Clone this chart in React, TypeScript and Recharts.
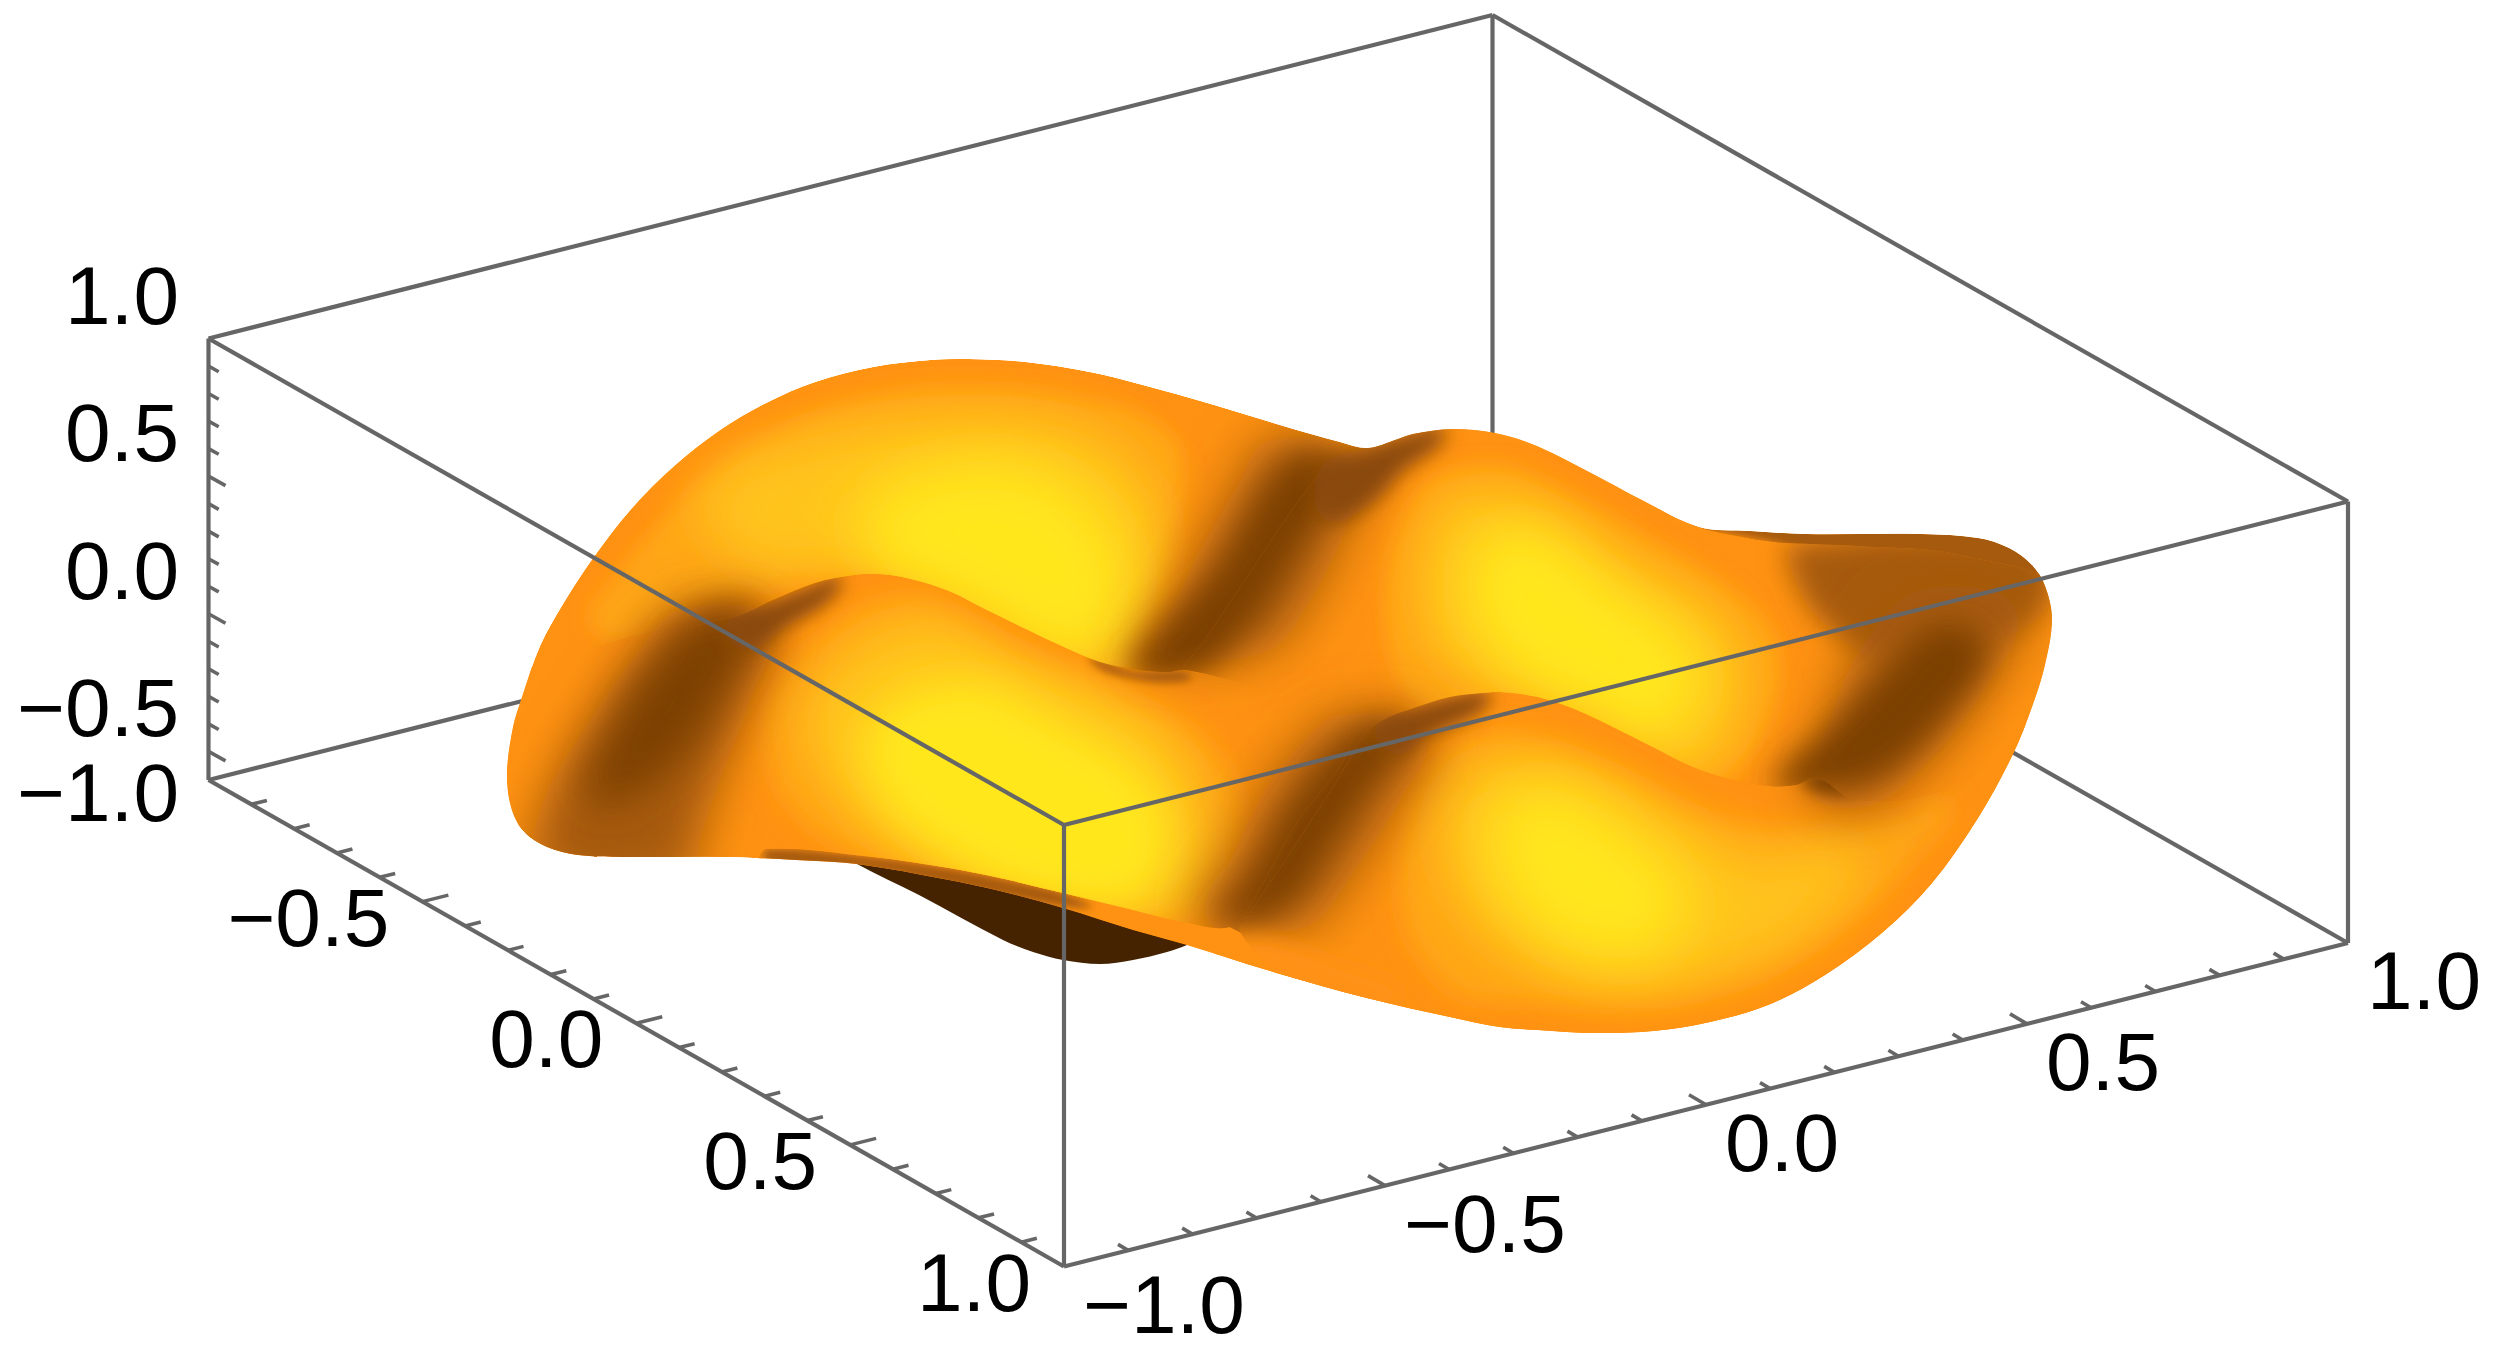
import { ScatterChart, Scatter, XAxis, YAxis } from 'recharts'

type Pair = number[]

// axis ticks (box axes run -1..1, the height axis is cut at zBottom)
const groundTicks = [-0.9, -0.8, -0.7, -0.6, -0.5, -0.4, -0.3, -0.2, -0.1, 0, 0.1, 0.2, 0.3, 0.4, 0.5, 0.6, 0.7, 0.8, 0.9]
const heightTicks = [0.9, 0.8, 0.7, 0.6, 0.5, 0.4, 0.3, 0.2, 0.1, 0, -0.1, -0.2, -0.3, -0.4, -0.5]
const majorTicks = [-0.5, 0, 0.5]
const groundLabels = [-1, -0.5, 0, 0.5, 1]
const heightLabels = [
  { z: 1, text: '1.0' },
  { z: 0.5, text: '0.5' },
  { z: 0, text: '0.0' },
  { z: -0.5, text: '−0.5' },
  { z: -0.806, text: '−1.0' },
]
const zBottom = -0.604

// box edges, as [u, v, z] corners
const backEdges = [
  [[-1, -1, zBottom], [-1, 1, zBottom]],
  [[1, 1, zBottom], [-1, 1, zBottom]],
  [[-1, 1, zBottom], [-1, 1, 1]],
  [[-1, -1, 1], [-1, 1, 1]],
  [[-1, 1, 1], [1, 1, 1]],
]
const frontEdges = [
  [[-1, -1, 1], [1, -1, 1]],
  [[1, -1, 1], [1, 1, 1]],
  [[1, -1, 1], [1, -1, zBottom]],
  [[-1, -1, 1], [-1, -1, zBottom]],
  [[1, 1, 1], [1, 1, zBottom]],
  [[-1, -1, zBottom], [1, -1, zBottom]],
  [[1, -1, zBottom], [1, 1, zBottom]],
]

// surface traces in view-plane units
const underside = [[820, 840], [857, 864], [919, 895], [1003, 940], [1033, 952], [1063, 960], [1100, 964], [1133, 960], [1167, 952], [1187, 945], [1232, 925], [1100, 880]]
const outline = [[507, 772], [513, 727], [521, 700], [540, 646], [563, 604], [593, 558], [632, 508], [674, 466], [720, 430], [766, 403], [815, 382], [873, 367], [930, 360], [968, 359], [1026, 362], [1090, 372], [1143, 385], [1211, 404], [1280, 425], [1340, 442], [1368, 448], [1395, 440], [1413, 434], [1452, 429], [1495, 433], [1537, 446], [1593, 474], [1642, 500], [1699, 527], [1750, 531], [1806, 534], [1921, 534], [1978, 538], [2009, 548], [2032, 565], [2045, 586], [2052, 619], [2045, 665], [2032, 707], [2013, 754], [1978, 818], [1932, 883], [1883, 932], [1825, 975], [1768, 1005], [1710, 1022], [1653, 1031], [1596, 1033], [1538, 1030], [1500, 1027], [1450, 1017], [1367, 998], [1267, 970], [1187, 945], [1133, 930], [1063, 908], [1000, 891], [949, 880], [857, 864], [796, 860], [720, 857], [624, 857], [578, 855], [547, 847], [524, 832], [511, 807]]
const humpSheet = [[1325, 468], [1345, 455], [1368, 447], [1413, 432], [1452, 427], [1495, 431], [1537, 444], [1593, 472], [1642, 498], [1699, 527], [1737, 536], [1775, 542], [1814, 544], [1860, 546], [1960, 555], [2070, 600], [2090, 800], [1900, 1060], [1260, 1000], [1180, 760], [1178, 680], [1205, 640], [1245, 580], [1285, 520]]
const stripSheet = [[766, 849], [873, 857], [949, 868], [1000, 878], [1063, 893], [1133, 910], [1183, 922], [1230, 927], [1300, 985], [1187, 960], [1063, 925], [900, 880], [760, 865]]
const leftSheet = [[735, 617], [773, 600], [815, 583], [854, 575], [880, 574], [911, 579], [949, 591], [987, 610], [1026, 629], [1064, 647], [1100, 662], [1133, 669], [1167, 672], [1187, 670], [1260, 688], [1330, 712], [1350, 745], [1298, 821], [1250, 905], [1230, 927], [1183, 922], [1133, 910], [1063, 893], [1000, 878], [949, 868], [873, 857], [766, 849], [600, 870], [490, 790], [500, 690], [620, 640]]
const rightSheet = [[1365, 735], [1383, 720], [1417, 707], [1450, 697], [1483, 693], [1500, 692], [1538, 697], [1577, 710], [1615, 728], [1653, 747], [1691, 766], [1730, 779], [1768, 786], [1795, 785], [1818, 778], [1855, 800], [1945, 790], [2000, 745], [2080, 700], [2080, 1100], [1500, 1090], [1300, 990], [1240, 932], [1250, 913], [1290, 853], [1333, 787]]

const backOuter = [[590, 620], [618, 575], [655, 528], [695, 488], [738, 455], [782, 430], [828, 410], [880, 396], [935, 388], [968, 387], [1024, 390], [1085, 400], [1135, 412], [1180, 450], [1170, 540], [1140, 620], [1130, 670], [1060, 670], [950, 600], [850, 570], [760, 590], [680, 610], [620, 640]]
const backMid = [[700, 500], [800, 440], [970, 420], [1100, 440], [1160, 520], [1130, 640], [1060, 665], [950, 600], [850, 570], [760, 570]]
const backYellow = [[860, 510], [940, 465], [1030, 465], [1100, 510], [1130, 580], [1110, 650], [1060, 660], [970, 610], [880, 570]]
const leftHalo = [[680, 610], [770, 620], [750, 700], [720, 780], [700, 840], [690, 880], [540, 880], [540, 810], [590, 720], [640, 650]]
const leftBand = [[705, 615], [755, 615], [730, 680], [690, 745], [640, 790], [590, 800], [610, 735], [650, 670]]
const midHalo = [[1270, 440], [1360, 460], [1345, 530], [1310, 600], [1270, 650], [1170, 660], [1140, 650], [1170, 610], [1200, 550], [1235, 490]]
const midBand = [[1300, 455], [1340, 470], [1305, 535], [1265, 600], [1235, 640], [1200, 672], [1130, 672], [1160, 630], [1200, 590], [1225, 560], [1260, 500]]
const rimBrown = [[1690, 520], [2060, 520], [2060, 600], [1850, 570], [1780, 545]]
const humpOuter = [[1420, 490], [1495, 465], [1570, 495], [1660, 545], [1730, 590], [1775, 640], [1770, 720], [1710, 785], [1620, 750], [1520, 710], [1420, 710], [1385, 600]]
const humpMid = [[1440, 510], [1520, 500], [1620, 560], [1720, 620], [1745, 680], [1700, 770], [1600, 730], [1500, 690], [1430, 640]]
const humpYellow = [[1480, 540], [1540, 530], [1620, 590], [1690, 640], [1700, 690], [1660, 740], [1590, 710], [1510, 670], [1470, 610]]
const humpShade = [[1320, 468], [1368, 447], [1413, 432], [1445, 428], [1440, 445], [1405, 470], [1370, 505], [1325, 520]]
const rightUpper = [[1790, 545], [2040, 545], [2045, 610], [1960, 650], [1880, 660], [1820, 620], [1795, 580]]
const rightHalo = [[1810, 790], [1830, 720], [1860, 650], [1920, 590], [2020, 610], [1990, 680], [1930, 760], [1860, 810]]
const rightBand = [[1775, 785], [1825, 735], [1880, 680], [1940, 625], [1985, 650], [1945, 715], [1885, 770], [1820, 790]]
const rightTip = [[1800, 778], [1830, 770], [1870, 750], [1880, 770], [1840, 795]]
const stripShade = [[766, 849], [873, 857], [949, 868], [1000, 878], [1063, 893], [1090, 908], [1000, 895], [949, 885], [873, 870], [766, 862]]
const leftOuter = [[770, 700], [850, 615], [920, 598], [1000, 638], [1100, 690], [1190, 730], [1240, 800], [1210, 905], [1100, 915], [980, 890], [880, 865], [785, 800]]
const leftMid = [[810, 700], [920, 620], [1020, 660], [1120, 700], [1190, 770], [1190, 900], [1080, 910], [960, 880], [840, 800]]
const leftYellow = [[870, 720], [970, 680], [1060, 720], [1150, 780], [1170, 860], [1130, 905], [1050, 900], [970, 870], [880, 800]]
const crestLeftShade = [[725, 625], [773, 602], [815, 585], [840, 578], [830, 600], [790, 625], [745, 650]]
const crestHookShade = [[1090, 660], [1133, 671], [1187, 672], [1190, 680], [1140, 680]]
const frontHalo = [[1340, 715], [1430, 730], [1400, 800], [1355, 870], [1310, 925], [1225, 930], [1195, 915], [1230, 860], [1265, 790], [1305, 740]]
const frontBand = [[1370, 725], [1405, 730], [1365, 790], [1325, 850], [1285, 905], [1240, 922], [1215, 920], [1250, 880], [1290, 810], [1330, 760]]
const rightOuter = [[1430, 770], [1500, 735], [1600, 765], [1700, 815], [1800, 830], [1900, 815], [1950, 800], [1912, 860], [1865, 908], [1810, 948], [1755, 978], [1700, 995], [1650, 1003], [1596, 1005], [1540, 1002], [1450, 990], [1400, 900]]
const rightMid = [[1450, 790], [1530, 760], [1640, 800], [1760, 860], [1860, 850], [1820, 920], [1740, 965], [1640, 985], [1530, 960], [1460, 900]]
const rightYellow = [[1500, 800], [1570, 790], [1640, 840], [1690, 890], [1670, 945], [1600, 960], [1530, 925], [1490, 860]]
const crestRightShade = [[1375, 725], [1417, 707], [1450, 697], [1490, 693], [1480, 712], [1430, 735], [1395, 755]]
const hookGlow = [[1215, 945], [1260, 938], [1330, 960], [1400, 1000], [1300, 1000], [1200, 960]]

const ORANGE = '#FF9212'
const OUTER = '#FFA616'
const MID = '#FFC41C'
const YELLOW = '#FFE71F'
const BROWN = '#7C4006'
const SHADE = '#8A4A08'
const TAN = '#A65A0A'

const layers: { sheet: string; data: Pair[]; fill: string; blur: number }[] = [
  { sheet: 'outline', data: outline, fill: ORANGE, blur: 0 },
  { sheet: 'outline', data: backOuter, fill: OUTER, blur: 10 },
  { sheet: 'outline', data: backMid, fill: MID, blur: 26 },
  { sheet: 'outline', data: backYellow, fill: YELLOW, blur: 30 },
  { sheet: 'outline', data: leftHalo, fill: TAN, blur: 24 },
  { sheet: 'outline', data: leftBand, fill: BROWN, blur: 20 },
  { sheet: 'outline', data: midHalo, fill: TAN, blur: 26 },
  { sheet: 'outline', data: midBand, fill: BROWN, blur: 16 },
  { sheet: 'outline', data: humpShade, fill: SHADE, blur: 10 },
  { sheet: 'outline', data: rimBrown, fill: TAN, blur: 5 },

  { sheet: 'hump', data: humpSheet, fill: ORANGE, blur: 0 },
  { sheet: 'hump', data: humpOuter, fill: OUTER, blur: 10 },
  { sheet: 'hump', data: humpMid, fill: MID, blur: 22 },
  { sheet: 'hump', data: humpYellow, fill: YELLOW, blur: 26 },
  { sheet: 'hump', data: midHalo, fill: TAN, blur: 26 },
  { sheet: 'hump', data: midBand, fill: BROWN, blur: 16 },
  { sheet: 'hump', data: humpShade, fill: SHADE, blur: 10 },
  { sheet: 'hump', data: rightUpper, fill: TAN, blur: 14 },
  { sheet: 'hump', data: rightHalo, fill: TAN, blur: 26 },
  { sheet: 'hump', data: rightBand, fill: BROWN, blur: 16 },
  { sheet: 'hump', data: frontHalo, fill: TAN, blur: 26 },
  { sheet: 'hump', data: frontBand, fill: BROWN, blur: 16 },

  { sheet: 'strip', data: stripSheet, fill: ORANGE, blur: 0 },
  { sheet: 'strip', data: stripShade, fill: TAN, blur: 4 },

  { sheet: 'left', data: leftSheet, fill: ORANGE, blur: 0 },
  { sheet: 'left', data: leftOuter, fill: OUTER, blur: 14 },
  { sheet: 'left', data: leftMid, fill: MID, blur: 22 },
  { sheet: 'left', data: leftYellow, fill: YELLOW, blur: 22 },
  { sheet: 'left', data: leftHalo, fill: TAN, blur: 24 },
  { sheet: 'left', data: leftBand, fill: BROWN, blur: 20 },
  { sheet: 'left', data: crestLeftShade, fill: SHADE, blur: 9 },
  { sheet: 'left', data: midHalo, fill: TAN, blur: 26 },
  { sheet: 'left', data: crestHookShade, fill: TAN, blur: 4 },
  { sheet: 'left', data: frontHalo, fill: TAN, blur: 26 },
  { sheet: 'left', data: frontBand, fill: BROWN, blur: 16 },

  { sheet: 'right', data: rightSheet, fill: ORANGE, blur: 0 },
  { sheet: 'right', data: rightOuter, fill: OUTER, blur: 13 },
  { sheet: 'right', data: rightMid, fill: MID, blur: 26 },
  { sheet: 'right', data: rightYellow, fill: YELLOW, blur: 30 },
  { sheet: 'right', data: frontHalo, fill: TAN, blur: 26 },
  { sheet: 'right', data: frontBand, fill: BROWN, blur: 16 },
  { sheet: 'right', data: crestRightShade, fill: SHADE, blur: 9 },
  { sheet: 'right', data: rightHalo, fill: TAN, blur: 26 },
  { sheet: 'right', data: rightTip, fill: BROWN, blur: 8 },
  { sheet: 'right', data: hookGlow, fill: ORANGE, blur: 10 },
]

const sheets: Record<string, Pair[]> = { outline, hump: humpSheet, strip: stripSheet, left: leftSheet, right: rightSheet }
const blurSizes = [4, 5, 8, 9, 10, 13, 14, 16, 20, 22, 24, 26, 30]

const WIDTH = 2500
const HEIGHT = 1352
const LINE = '#666666'
const FONT = '"Liberation Sans", Arial, sans-serif'

// the box is drawn in parallel projection
function project(u: number, v: number, z: number) {
  const a = (u + 1) / 2
  const b = (v + 1) / 2
  const c = (1 - z) / (1 - zBottom)
  return { x: 208.5 + a * 855.5 + b * 1284, y: 338.5 + a * 486.5 - b * 323.5 + c * 441.5 }
}

function toPoints(pairs: Pair[]) {
  return pairs.map(([x, y]) => ({ x, y }))
}

// closed smooth path through the traced points, handles scaled to each segment
function smoothPath(pts: { x: number; y: number }[]) {
  const n = pts.length
  const unit = (a: { x: number; y: number }, b: { x: number; y: number }) => {
    const l = Math.hypot(b.x - a.x, b.y - a.y) || 1
    return { x: (b.x - a.x) / l, y: (b.y - a.y) / l }
  }
  let d = `M${pts[0].x},${pts[0].y}`
  for (let i = 0; i < n; i++) {
    const p1 = pts[i]
    const p2 = pts[(i + 1) % n]
    const t1 = unit(pts[(i - 1 + n) % n], p2)
    const t2 = unit(p1, pts[(i + 2) % n])
    const k = Math.hypot(p2.x - p1.x, p2.y - p1.y) / 3
    d += `C${p1.x + t1.x * k},${p1.y + t1.y * k} ${p2.x - t2.x * k},${p2.y - t2.y * k} ${p2.x},${p2.y}`
  }
  return d + 'Z'
}

const noDot = () => <g />

function tickShape(dx: number, dy: number) {
  return (p: any) => {
    const k = majorTicks.includes(p.payload.t) ? 1 : 0.6
    return <line x1={p.cx} y1={p.cy} x2={p.cx + dx * k} y2={p.cy + dy * k} stroke={LINE} strokeWidth={3.6} />
  }
}

function labelShape(dx: number, dy: number, anchor: string) {
  return (p: any) => (
    <text x={p.cx + dx} y={p.cy + dy} textAnchor={anchor} fontFamily={FONT} fontSize={82} fill="#000000">
      {p.payload.text}
    </text>
  )
}

const fmt = (v: number) => (v < 0 ? '−' : '') + Math.abs(v).toFixed(1)

export default function App() {
  return (
    <div style={{ position: 'absolute', left: 0, top: 0, width: WIDTH, height: HEIGHT, background: '#ffffff' }}>
      <ScatterChart width={WIDTH} height={HEIGHT} margin={{ top: 0, right: 0, bottom: 0, left: 0 }}>
        <defs>
          {blurSizes.map((s) => (
            <filter key={s} id={`blur${s}`} filterUnits="userSpaceOnUse" x={0} y={0} width={WIDTH} height={HEIGHT}>
              <feGaussianBlur stdDeviation={s} />
            </filter>
          ))}
        </defs>
        <XAxis type="number" dataKey="x" domain={[0, WIDTH]} hide />
        <YAxis type="number" dataKey="y" domain={[0, HEIGHT]} reversed hide />

        {backEdges.map((edge, i) => (
          <Scatter
            key={`back${i}`}
            data={edge.map(([u, v, z]) => project(u, v, z))}
            line={{ stroke: LINE, strokeWidth: 4.2 }}
            shape={noDot}
            isAnimationActive={false}
          />
        ))}

        <Scatter
          data={toPoints(underside)}
          line={(p: any) => <path d={smoothPath(p.points)} fill="#452300" stroke="none" />}
          shape={noDot}
          isAnimationActive={false}
        />

        {Object.keys(sheets).map((id) => (
          <Scatter
            key={`clip${id}`}
            data={toPoints(sheets[id])}
            line={(p: any) => (
              <clipPath id={`sheet-${id}`}>
                <path d={smoothPath(p.points)} />
              </clipPath>
            )}
            shape={noDot}
            isAnimationActive={false}
          />
        ))}

        {layers.map((layer, i) => (
          <Scatter
            key={`layer${i}`}
            data={toPoints(layer.data)}
            line={(p: any) => (
              <g clipPath="url(#sheet-outline)">
                <g clipPath={`url(#sheet-${layer.sheet})`}>
                  <path
                    d={smoothPath(p.points)}
                    fill={layer.fill}
                    stroke="none"
                    filter={layer.blur ? `url(#blur${layer.blur})` : undefined}
                  />
                </g>
              </g>
            )}
            shape={noDot}
            isAnimationActive={false}
          />
        ))}

        {frontEdges.map((edge, i) => (
          <Scatter
            key={`front${i}`}
            data={edge.map(([u, v, z]) => project(u, v, z))}
            line={{ stroke: LINE, strokeWidth: 4.2 }}
            shape={noDot}
            isAnimationActive={false}
          />
        ))}

        <Scatter
          data={groundTicks.map((t) => ({ ...project(t, -1, zBottom), t }))}
          shape={tickShape(26, -6.5)}
          isAnimationActive={false}
        />
        <Scatter
          data={groundTicks.map((t) => ({ ...project(1, t, zBottom), t }))}
          shape={tickShape(-17, -10)}
          isAnimationActive={false}
        />
        <Scatter
          data={heightTicks.map((t) => ({ ...project(-1, -1, t), t }))}
          shape={tickShape(17, 9.5)}
          isAnimationActive={false}
        />

        <Scatter
          data={groundLabels.slice(1).map((t) => ({ ...project(t, -1, zBottom), text: fmt(t) }))}
          shape={labelShape(-33, 44, 'end')}
          isAnimationActive={false}
        />
        <Scatter
          data={groundLabels.map((t) => ({ ...project(1, t, zBottom), text: fmt(t) }))}
          shape={labelShape(19, 66, 'start')}
          isAnimationActive={false}
        />
        <Scatter
          data={heightLabels.map((l) => ({ ...project(-1, -1, l.z), text: l.text }))}
          shape={(p: any) => (
            <text x={179} y={p.cy - 15} textAnchor="end" fontFamily={FONT} fontSize={82} fill="#000000">
              {p.payload.text}
            </text>
          )}
          isAnimationActive={false}
        />
      </ScatterChart>
    </div>
  )
}
